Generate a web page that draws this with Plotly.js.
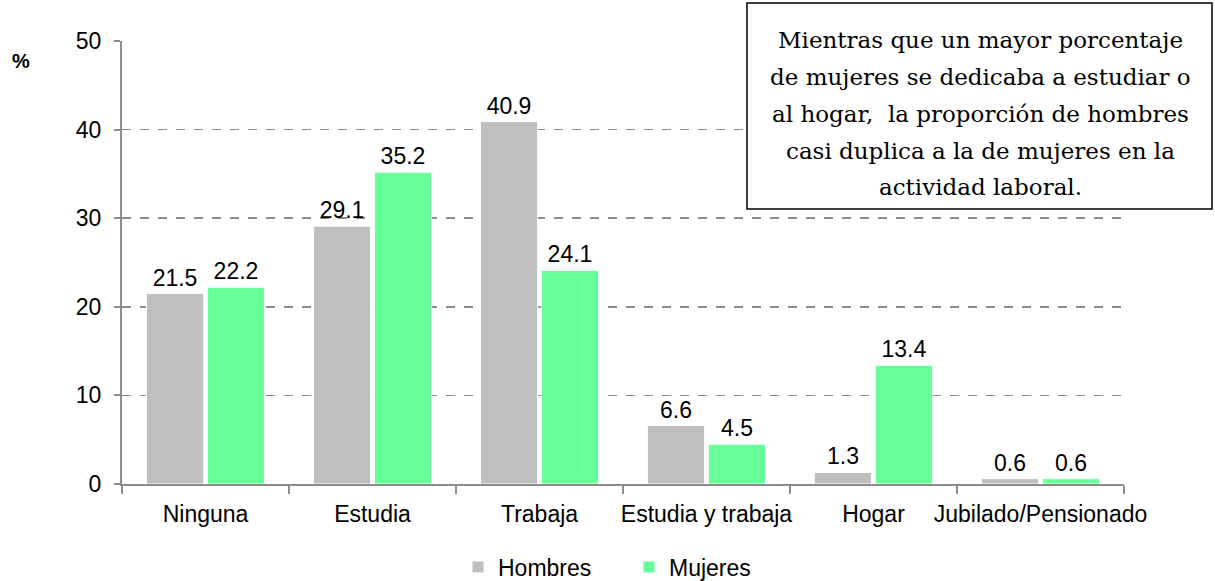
<!DOCTYPE html>
<html>
<head>
<meta charset="utf-8">
<script src="https://cdn.plot.ly/plotly-3.0.1.min.js"></script>
<style>html,body{margin:0;padding:0;background:#fff;}#chart{width:1215px;height:581px;}</style>
</head>
<body>
<div id="chart"></div>
<script>
const categories = ["Ninguna", "Estudia", "Trabaja", "Estudia y trabaja", "Hogar", "Jubilado/Pensionado"];
const hombres = [21.5, 29.1, 40.9, 6.6, 1.3, 0.6];
const mujeres = [22.2, 35.2, 24.1, 4.5, 13.4, 0.6];
const seriesNames = ["Hombres", "Mujeres"];
const noteLines = [
  "Mientras que un mayor porcentaje",
  "de mujeres se dedicaba a estudiar o",
  "al hogar,  la proporción de hombres",
  "casi duplica a la de mujeres en la",
  "actividad laboral."
];

const W = 1215, H = 581;
const M = {l: 122, r: 91, t: 41, b: 97, autoexpand: false};
const pw = W - M.l - M.r, ph = H - M.t - M.b;
const px = x => (x - M.l) / pw;
const py = y => (H - M.b - y) / ph;

const FS = 23;
const labelFont = {family: "Liberation Sans, Arial, sans-serif", size: FS, color: "#000"};

const traces = [
  {type: "bar", name: seriesNames[0], x: categories, y: hombres,
   marker: {color: "#BFBFBF", line: {color: "#ffffff", width: 1}},
   text: hombres.map(v => v.toFixed(1)), textposition: "outside", cliponaxis: false,
   textfont: labelFont, hoverinfo: "x+y"},
  {type: "bar", name: seriesNames[1], x: categories, y: mujeres,
   marker: {color: "#66FF99", line: {color: "#ffffff", width: 1}},
   text: mujeres.map(v => v.toFixed(1)), textposition: "outside", cliponaxis: false,
   textfont: labelFont, hoverinfo: "x+y"}
];

const lineY = [40, 77, 114, 151, 187];
const annotations = noteLines.map((t, i) => ({
  xref: "paper", yref: "paper", x: px(980), y: py(lineY[i]),
  xanchor: "center", yanchor: "middle", showarrow: false, text: t,
  font: {family: "DejaVu Serif, serif", size: 23, color: "#000"}
}));
annotations.push({
  xref: "paper", yref: "paper", x: px(10), y: py(61), xanchor: "left", yanchor: "middle",
  showarrow: false, text: "<b>%</b>", font: {family: "Liberation Sans, Arial, sans-serif", size: 20, color: "#000"}
});

const layout = {
  width: W, height: H,
  margin: M,
  paper_bgcolor: "#fff", plot_bgcolor: "#fff",
  barmode: "group", bargap: 0.27, bargroupgap: 0.06,
  showlegend: true,
  legend: {orientation: "h", x: px(458), xanchor: "left", y: py(567), yanchor: "middle",
           font: {family: "Liberation Sans, Arial, sans-serif", size: FS, color: "#000"},
           entrywidth: 126, itemwidth: 30},
  xaxis: {type: "category", showline: true, linecolor: "#8c8c8c", linewidth: 2,
          ticks: "outside", tickson: "boundaries", ticklen: 8, tickcolor: "#8c8c8c", tickwidth: 2,
          tickangle: 0, automargin: false, ticklabelstandoff: 8,
          tickfont: {family: "Liberation Sans, Arial, sans-serif", size: FS, color: "#000"},
          showgrid: false, zeroline: false, fixedrange: true},
  yaxis: {range: [0, 50], dtick: 10, showline: true, linecolor: "#8c8c8c", linewidth: 2,
          ticks: "outside", ticklen: 6, tickcolor: "#8c8c8c", tickwidth: 2, automargin: false,
          ticklabelstandoff: 8,
          tickfont: {family: "Liberation Sans, Arial, sans-serif", size: FS, color: "#000"},
          showgrid: true, gridcolor: "#8c8c8c", griddash: "dash", gridwidth: 1.5,
          zeroline: false, fixedrange: true},
  shapes: [{type: "rect", xref: "paper", yref: "paper",
            x0: px(747), x1: px(1212), y0: py(209), y1: py(3),
            line: {color: "#000", width: 1.5}, fillcolor: "#fff", layer: "above"}],
  annotations: annotations
};

Plotly.newPlot("chart", traces, layout, {displayModeBar: false, staticPlot: true});
</script>
</body>
</html>
